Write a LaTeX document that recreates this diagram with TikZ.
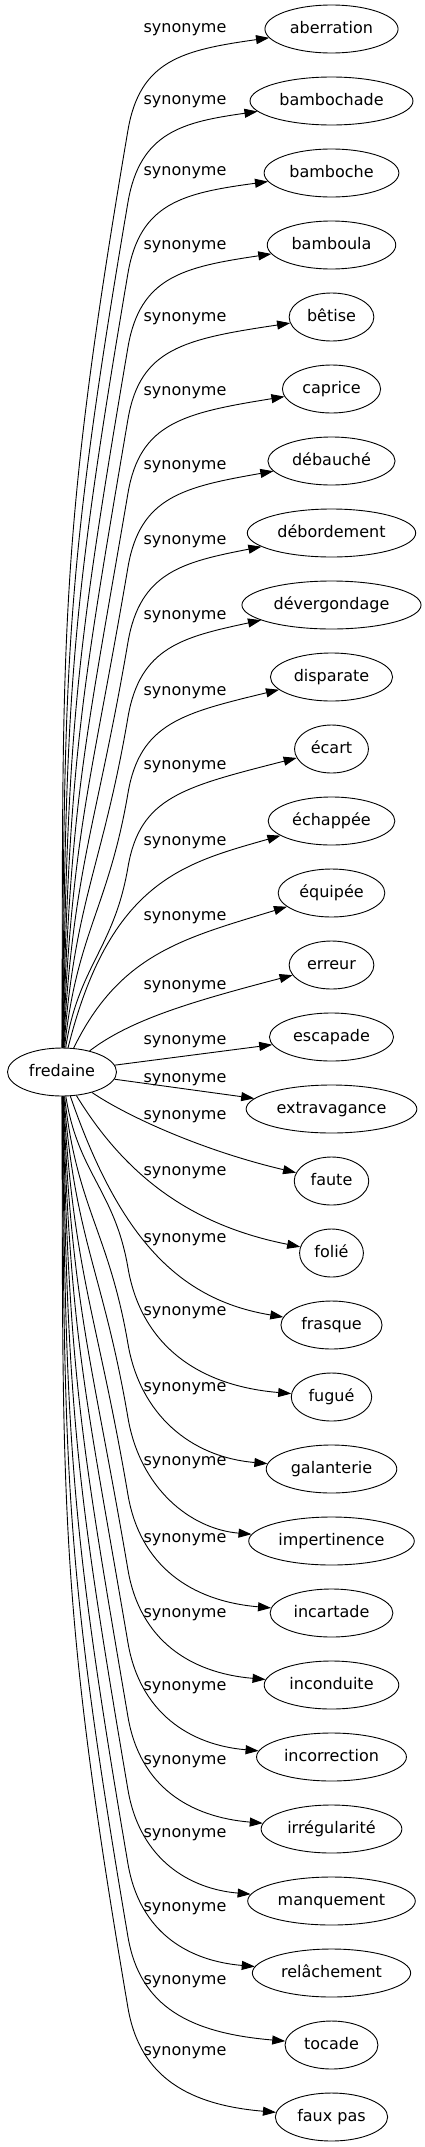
\documentclass[tikz,border=0pt]{standalone}
\usepackage{fontspec}
\setmainfont{DejaVu Sans}
\usetikzlibrary{arrows.meta,shapes.geometric}

\begin{document}
\begin{tikzpicture}[x=1pt,y=-1pt,
  term/.style={draw,ellipse,line width=0.9pt,inner xsep=5.5pt,inner ysep=0pt,minimum height=48pt,text height=12pt,text depth=3.5pt,font=\fontsize{16}{19}\selectfont},
  rel/.style={line width=0.9pt,-{Triangle[length=13pt,width=9pt]}},
  rellabel/.style={inner sep=0pt,font=\fontsize{16}{19}\selectfont}]
\useasboundingbox (0,0) rectangle (425,2147);

\node[term] (fredaine) at (62,1072) {fredaine};

\node[term] (aberration) at (331.5,29) {aberration};
\node[term] (bambochade) at (331.5,101) {bambochade};
\node[term] (bamboche) at (331.5,173) {bamboche};
\node[term] (bamboula) at (331.5,245) {bamboula};
\node[term] (betise) at (331.5,317) {bêtise};
\node[term] (caprice) at (331.5,389) {caprice};
\node[term] (debauche) at (331.5,461) {débauché};
\node[term] (debordement) at (331.5,533) {débordement};
\node[term] (devergondage) at (331.5,605) {dévergondage};
\node[term] (disparate) at (331.5,677) {disparate};
\node[term] (ecart) at (331.5,749) {écart};
\node[term] (echappee) at (331.5,821) {échappée};
\node[term] (equipee) at (331.5,893) {équipée};
\node[term] (erreur) at (331.5,965) {erreur};
\node[term] (escapade) at (331.5,1037) {escapade};
\node[term] (extravagance) at (331.5,1109) {extravagance};
\node[term] (faute) at (331.5,1181) {faute};
\node[term] (folie) at (331.5,1253) {folié};
\node[term] (frasque) at (331.5,1325) {frasque};
\node[term] (fugue) at (331.5,1397) {fugué};
\node[term] (galanterie) at (331.5,1469) {galanterie};
\node[term] (impertinence) at (331.5,1541) {impertinence};
\node[term] (incartade) at (331.5,1613) {incartade};
\node[term] (inconduite) at (331.5,1685) {inconduite};
\node[term] (incorrection) at (331.5,1757) {incorrection};
\node[term] (irregularite) at (331.5,1829) {irrégularité};
\node[term] (manquement) at (331.5,1901) {manquement};
\node[term] (relachement) at (331.5,1973) {relâchement};
\node[term] (tocade) at (331.5,2045) {tocade};
\node[term] (fauxpas) at (331.5,2117) {faux pas};

\node[rellabel] (l-aberration) at (185,30) {synonyme};
\node[rellabel] (l-bambochade) at (185,102) {synonyme};
\node[rellabel] (l-bamboche) at (185,173) {synonyme};
\node[rellabel] (l-bamboula) at (185,247) {synonyme};
\node[rellabel] (l-betise) at (185,319) {synonyme};
\node[rellabel] (l-caprice) at (185,393) {synonyme};
\node[rellabel] (l-debauche) at (185,467) {synonyme};
\node[rellabel] (l-debordement) at (185,542) {synonyme};
\node[rellabel] (l-devergondage) at (185,617) {synonyme};
\node[rellabel] (l-disparate) at (185,693) {synonyme};
\node[rellabel] (l-ecart) at (185,767) {synonyme};
\node[rellabel] (l-echappee) at (185,843) {synonyme};
\node[rellabel] (l-equipee) at (185,918) {synonyme};
\node[rellabel] (l-erreur) at (185,987) {synonyme};
\node[rellabel] (l-escapade) at (185,1042) {synonyme};
\node[rellabel] (l-extravagance) at (185,1080) {synonyme};
\node[rellabel] (l-faute) at (185,1117) {synonyme};
\node[rellabel] (l-folie) at (185,1173) {synonyme};
\node[rellabel] (l-frasque) at (185,1240) {synonyme};
\node[rellabel] (l-fugue) at (185,1313) {synonyme};
\node[rellabel] (l-galanterie) at (185,1389) {synonyme};
\node[rellabel] (l-impertinence) at (185,1463) {synonyme};
\node[rellabel] (l-incartade) at (185,1540) {synonyme};
\node[rellabel] (l-inconduite) at (185,1615) {synonyme};
\node[rellabel] (l-incorrection) at (185,1688) {synonyme};
\node[rellabel] (l-irregularite) at (185,1762) {synonyme};
\node[rellabel] (l-manquement) at (185,1835) {synonyme};
\node[rellabel] (l-relachement) at (185,1909) {synonyme};
\node[rellabel] (l-tocade) at (185,1982) {synonyme};
\node[rellabel] (l-fauxpas) at (185,2053) {synonyme};

\draw[rel] (fredaine) .. controls (63,635) and (57.8,543) .. (128,130) .. controls (140,60) and (183,50) .. (aberration);
\draw[rel] (fredaine) .. controls (64.5,667) and (63.3,583) .. (128,202) .. controls (140,132) and (183,122) .. (bambochade);
\draw[rel] (fredaine) .. controls (66,699) and (68.7,622) .. (128,273) .. controls (140,203) and (183,193) .. (bamboche);
\draw[rel] (fredaine) .. controls (67.5,732.5) and (74.4,662.5) .. (128,347) .. controls (140,277) and (183,267) .. (bamboula);
\draw[rel] (fredaine) .. controls (69,765) and (79.9,702) .. (128,419) .. controls (140,349) and (183,339) .. (betise);
\draw[rel] (fredaine) .. controls (70.5,798) and (85.5,742.8) .. (128,493) .. controls (140,423) and (183,413) .. (caprice);
\draw[rel] (fredaine) .. controls (72,831.5) and (91.2,783.5) .. (128,567) .. controls (140,497) and (183,487) .. (debauche);
\draw[rel] (fredaine) .. controls (73.5,865.3) and (96.9,824.7) .. (128,642) .. controls (140,572) and (183,562) .. (debordement);
\draw[rel] (fredaine) .. controls (75,899) and (102.7,866) .. (128,717) .. controls (140,647) and (183,637) .. (devergondage);
\draw[rel] (fredaine) .. controls (76.5,933.3) and (108.5,907.8) .. (128,793) .. controls (140,723) and (183,713) .. (disparate);
\draw[rel] (fredaine) .. controls (78,966.5) and (114.2,948.5) .. (128,867) .. controls (140,797) and (183,787) .. (ecart);
\draw[rel] (fredaine) .. controls (110,880) and (185,863) .. (echappee);
\draw[rel] (fredaine) .. controls (120,953) and (185,938) .. (equipee);
\draw[rel] (fredaine) .. controls (130,1020) and (190,1002) .. (erreur);
\draw[rel] (fredaine) -- (escapade);
\draw[rel] (fredaine) -- (extravagance);
\draw[rel] (fredaine) .. controls (125,1115) and (200,1150) .. (faute);
\draw[rel] (fredaine) .. controls (125,1175) and (190,1225) .. (folie);
\draw[rel] (fredaine) .. controls (120,1240) and (180,1300) .. (frasque);
\draw[rel] (fredaine) .. controls (78,1173.4) and (114.8,1190.6) .. (128,1268) .. controls (140,1338) and (190,1385) .. (fugue);
\draw[rel] (fredaine) .. controls (76.5,1207.6) and (109,1232.4) .. (128,1344) .. controls (140,1414) and (190,1457) .. (galanterie);
\draw[rel] (fredaine) .. controls (75,1240.9) and (103.4,1273.1) .. (128,1418) .. controls (140,1488) and (190,1529) .. (impertinence);
\draw[rel] (fredaine) .. controls (73.5,1275.6) and (97.5,1315.5) .. (128,1495) .. controls (140,1565) and (190,1601) .. (incartade);
\draw[rel] (fredaine) .. controls (72,1309.3) and (91.7,1356.7) .. (128,1570) .. controls (140,1640) and (190,1673) .. (inconduite);
\draw[rel] (fredaine) .. controls (70.5,1342.2) and (86.2,1396.9) .. (128,1643) .. controls (140,1713) and (190,1745) .. (incorrection);
\draw[rel] (fredaine) .. controls (69,1375.5) and (80.5,1437.6) .. (128,1717) .. controls (140,1787) and (190,1817) .. (irregularite);
\draw[rel] (fredaine) .. controls (67.5,1408.3) and (74.9,1477.7) .. (128,1790) .. controls (140,1860) and (190,1889) .. (manquement);
\draw[rel] (fredaine) .. controls (66,1441.6) and (69.2,1518.4) .. (128,1864) .. controls (140,1934) and (190,1961) .. (relachement);
\draw[rel] (fredaine) .. controls (64.5,1474.5) and (63.7,1558.6) .. (128,1937) .. controls (140,2007) and (190,2033) .. (tocade);
\draw[rel] (fredaine) .. controls (63,1506.4) and (58.2,1597.6) .. (128,2008) .. controls (140,2078) and (190,2105) .. (fauxpas);
\end{tikzpicture}
\end{document}
